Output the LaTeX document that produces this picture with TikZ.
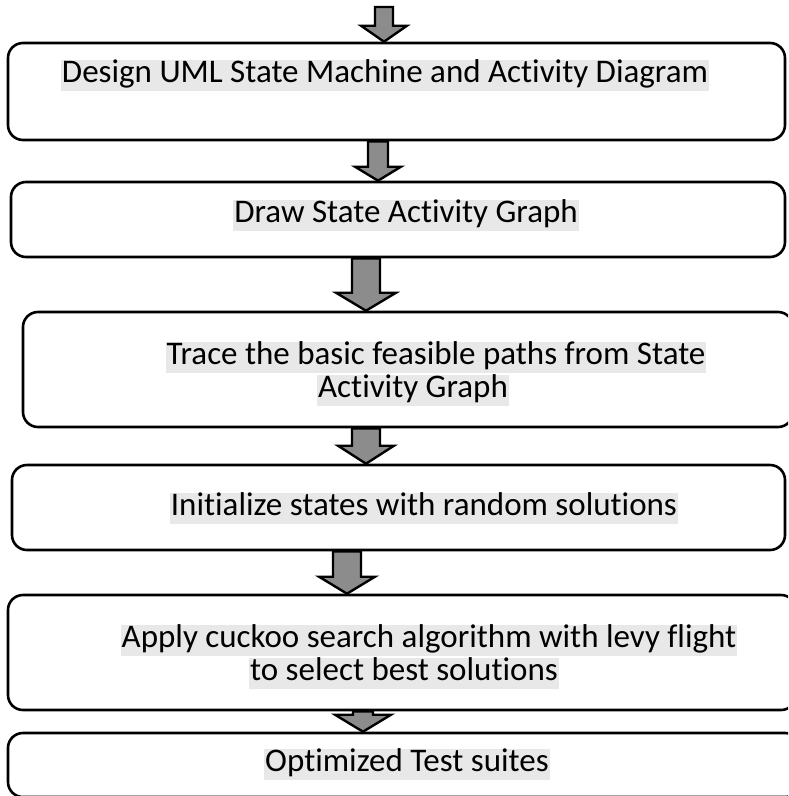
\documentclass[tikz,border=0pt]{standalone}
\usepackage{fontspec}
\setmainfont{Carlito}[Ligatures={NoCommon,NoContextual}]
\usetikzlibrary{calc}
\definecolor{hlgray}{gray}{0.91}
\begin{document}
\begin{tikzpicture}[x=1pt, y=-1pt,
    every node/.style={font=\fontsize{33}{33}\selectfont},
    stage/.style={draw, rectangle, rounded corners=15pt, line width=2.6pt,
                  inner sep=0pt},
    lbl/.style={fill=hlgray, inner xsep=1pt, inner ysep=1pt,
                text height=22pt, text depth=7pt},
    blk/.style={draw, line width=2.4pt, fill=black!45, line join=miter}
]
\useasboundingbox (0,0) rectangle (788,796);
\clip (0,0) rectangle (788,796);
\node[stage, minimum width=777pt, minimum height=97pt]  (b1) at (396.5,91.5) {};
\node[stage, minimum width=774pt, minimum height=75pt]  (b2) at (398,219.5) {};
\node[stage, minimum width=770pt, minimum height=115pt] (b3) at (408,369.5) {};
\node[stage, minimum width=773pt, minimum height=85pt]  (b4) at (398.5,507.5) {};
\node[stage, minimum width=788pt, minimum height=115pt] (b5) at (402,652.5) {};
\node[stage, minimum width=792pt, minimum height=64pt]  (b6) at (404,765) {};
\node[lbl] (t1)  at (385,75)  {Design UML State Machine and Activity Diagram};
\node[lbl] (t2)  at (406,215) {Draw State Activity Graph};
\node[lbl] (t3a) at (436,357) {Trace the basic feasible paths from State};
\node[lbl] (t3b) at (413,390) {Activity Graph};
\node[lbl] (t4)  at (424,508) {Initialize states with random solutions};
\node[lbl] (t5a) at (429,640) {Apply cuckoo search algorithm with levy flight};
\node[lbl] (t5b) at (404,673) {to select best solutions};
\node[lbl] (t6)  at (407,764) {Optimized Test suites};
\coordinate (top) at (384,7);
\foreach \xa/\from/\to/\sw/\hw/\hh in {384/top/b1.north/9/23/16,
    378/b1.south/b2.north/10/23/14, 366/b2.south/b3.north/14/30/18,
    366/b3.south/b4.north/14/28/18, 347/b4.south/b5.north/14/28/17,
    363/b5.south/b6.north/10/28/17}
  \draw[blk] let \p1=(\xa,0 |- \from), \p2=(\xa,0 |- \to) in
    (\x1-\sw*1pt,\y1) -- (\x1+\sw*1pt,\y1) -- (\x1+\sw*1pt,\y2+\hh*1pt)
    -- (\x1+\hw*1pt,\y2+\hh*1pt) -- (\x2,\y2) -- (\x1-\hw*1pt,\y2+\hh*1pt)
    -- (\x1-\sw*1pt,\y2+\hh*1pt) -- cycle;
\end{tikzpicture}
\end{document}
